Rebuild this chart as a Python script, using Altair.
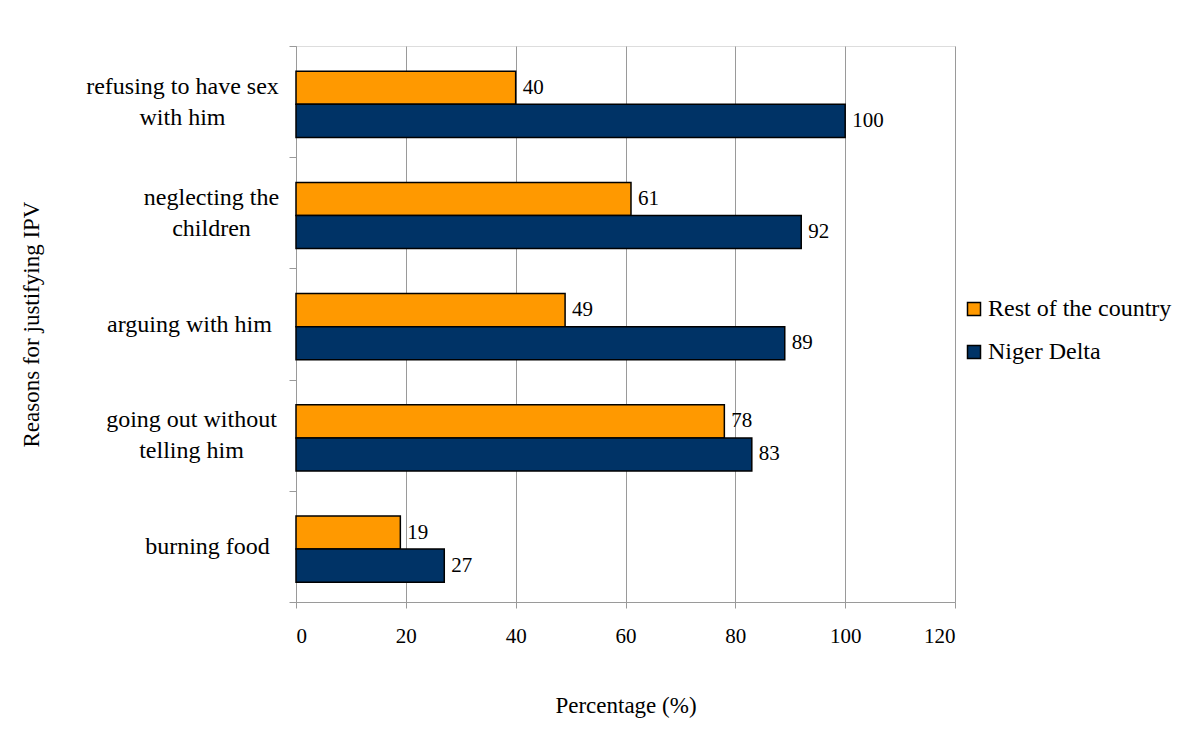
import altair as alt
import pandas as pd

categories = [
    "refusing to have sex|with him",
    "neglecting the|children",
    "arguing with him",
    "going out without|telling him",
    "burning food",
]
series = ["Rest of the country", "Niger Delta"]
rest_values = [40, 61, 49, 78, 19]
niger_values = [100, 92, 89, 83, 27]
colors = ["#FF9900", "#003366"]
x_ticks = [0, 20, 40, 60, 80, 100, 120]
# distance of each (centred) category label from the axis
label_pads = [107, 78, 100, 98, 82]
# vertical shift of each label so multi-line blocks are centred
label_offsets = [-15.5, -15.5, 0, -15.5, 0]

rows = []
for c, r, n in zip(categories, rest_values, niger_values):
    rows.append({"reason": c, "series": series[0], "value": r})
    rows.append({"reason": c, "series": series[1], "value": n})
df = pd.DataFrame(rows)

FONT = "Liberation Serif"
GRID = "#9a9a9a"

pad_cond = {
    "condition": [
        {"test": f"datum.value == '{c}'", "value": p}
        for c, p in zip(categories, label_pads)
    ],
    "value": 90,
}
offset_cond = {
    "condition": [
        {"test": f"datum.value == '{c}'", "value": o}
        for c, o in zip(categories, label_offsets)
        if o != 0
    ],
    "value": 0,
}

y_enc = alt.Y(
    "reason:N",
    sort=categories,
    scale=alt.Scale(paddingInner=0, paddingOuter=0),
    axis=alt.Axis(
        title="Reasons for justifying IPV",
        labelExpr="split(datum.label, '|')",
        labelFont=FONT,
        labelFontSize=24,
        labelColor="black",
        labelLineHeight=31,
        labelAlign="center",
        labelPadding=pad_cond,
        labelOffset=offset_cond,
        labelLimit=300,
        tickBand="extent",
        tickSize=7,
        tickColor=GRID,
        domainColor=GRID,
        grid=False,
        titleFont=FONT,
        titleFontSize=23,
        titleFontWeight="normal",
        titleColor="black",
        titlePadding=53,
    ),
)
yoff = alt.YOffset(
    "series:N",
    sort=series,
    scale=alt.Scale(paddingInner=0, paddingOuter=0.68, align=0.56),
)
x_enc = alt.X(
    "value:Q",
    scale=alt.Scale(domain=[0, 120], nice=False),
    axis=alt.Axis(
        title="Percentage (%)",
        values=x_ticks,
        labelFont=FONT,
        labelFontSize=21,
        labelColor="black",
        labelPadding=17,
        tickSize=6,
        tickColor=GRID,
        domainColor=GRID,
        gridColor=GRID,
        gridOpacity=1,
        titleFont=FONT,
        titleFontSize=23,
        titleFontWeight="normal",
        titleColor="black",
        titlePadding=48,
    ),
)

bars = alt.Chart(df).mark_bar(stroke="black", strokeWidth=1.5).encode(
    x=x_enc,
    y=y_enc,
    yOffset=yoff,
    color=alt.Color(
        "series:N",
        sort=series,
        scale=alt.Scale(domain=series, range=colors),
        legend=alt.Legend(
            title=None,
            orient="none",
            legendX=666,
            legendY=251,
            symbolType="square",
            symbolSize=169,
            symbolStrokeColor="black",
            symbolStrokeWidth=1.5,
            labelFont=FONT,
            labelFontSize=24,
            labelColor="black",
            rowPadding=19,
            labelOffset=2,
            labelLimit=300,
        ),
    ),
)

labels = alt.Chart(df).mark_text(
    align="left", baseline="middle", dx=7, font=FONT, fontSize=21, color="black"
).encode(
    x="value:Q",
    y=alt.Y("reason:N", sort=categories),
    yOffset=alt.YOffset("series:N", sort=series),
    text="value:Q",
)

chart = (
    alt.layer(bars, labels)
    .properties(width=659, height=556, padding={"top": 26, "left": 12, "right": 5, "bottom": 5})
    .configure_view(stroke=GRID, strokeWidth=1)
    .configure(background="white")
)

chart.save("out.html", embed_options={"renderer": "svg", "actions": False})
